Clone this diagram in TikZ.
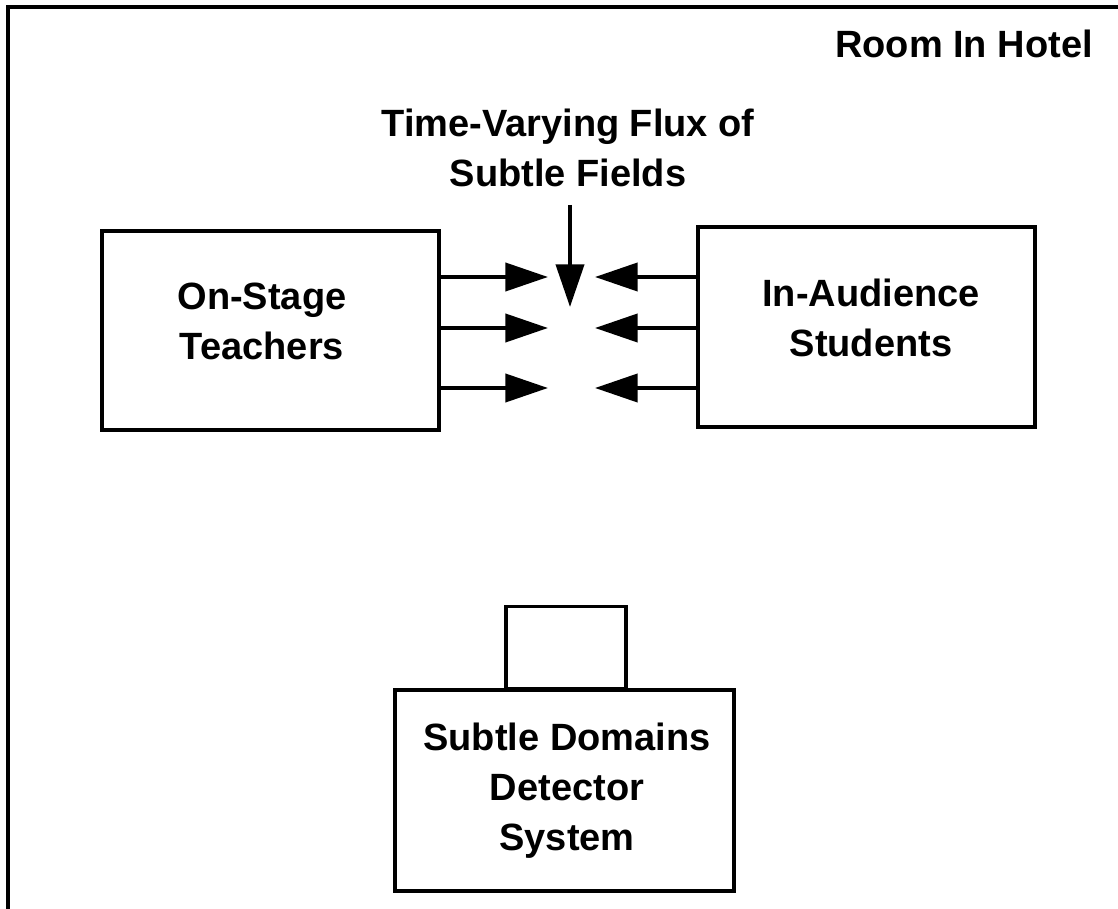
\documentclass[tikz,border=0pt]{standalone}
\usepackage{fontspec}
\setmainfont{Liberation Sans}
\usetikzlibrary{arrows.meta}
\begin{document}
\begin{tikzpicture}[x=0.75pt,y=-0.75pt,
  box/.style={draw, line width=2.6pt, minimum width=#1, inner sep=0pt},
  lbl/.style={align=center, inner sep=0pt, font=\fontsize{28.5}{37.5}\selectfont\bfseries},
  flux/.style={line width=3pt, -{Triangle[length=32pt,width=21pt]}}]
\useasboundingbox (0,0) rectangle (1118,909);
% room frame
\coordinate (fbl) at (8,909);
\coordinate (ftl) at (8,7);
\coordinate (ftr) at (1118,7);
\draw[line width=3pt] (fbl) -- (ftl) -- (ftr);
\node[lbl, anchor=east] (room) at (1093,44) {Room In Hotel};
% boxes
\node[box=252.75pt, minimum height=149.25pt] (teach) at (270.5,330.5) {};
\node[lbl] (teachtxt) at (262,321) {On-Stage\\Teachers};
\node[box=252.75pt, minimum height=150pt] (stud) at (866.5,327) {};
\node[lbl] (studtxt) at (871,318) {In-Audience\\Students};
\node[box=254.25pt, minimum height=150.75pt] (det) at (564.5,790.5) {};
\node[lbl] (dettxt) at (567,791) {Subtle Domains\\Detector\\System};
\node[box=90pt, minimum height=61.5pt, anchor=south] (sens) at (566,690) {};
% flux title and arrow
\node[lbl] (flux) at (568,148) {Time-Varying Flux of\\Subtle Fields};
\coordinate (dtop) at (570,205);
\coordinate (dtip) at (570,307);
\draw[flux] (dtop) -- (dtip);
% horizontal arrows
\foreach \yy/\n in {277/a,328/b,388/c}{
  \coordinate (l\n) at (548,\yy);
  \coordinate (r\n) at (595,\yy);
  \draw[flux] (teach.east |- l\n) -- (l\n);
  \draw[flux] (stud.west |- r\n) -- (r\n);
}
\end{tikzpicture}
\end{document}
